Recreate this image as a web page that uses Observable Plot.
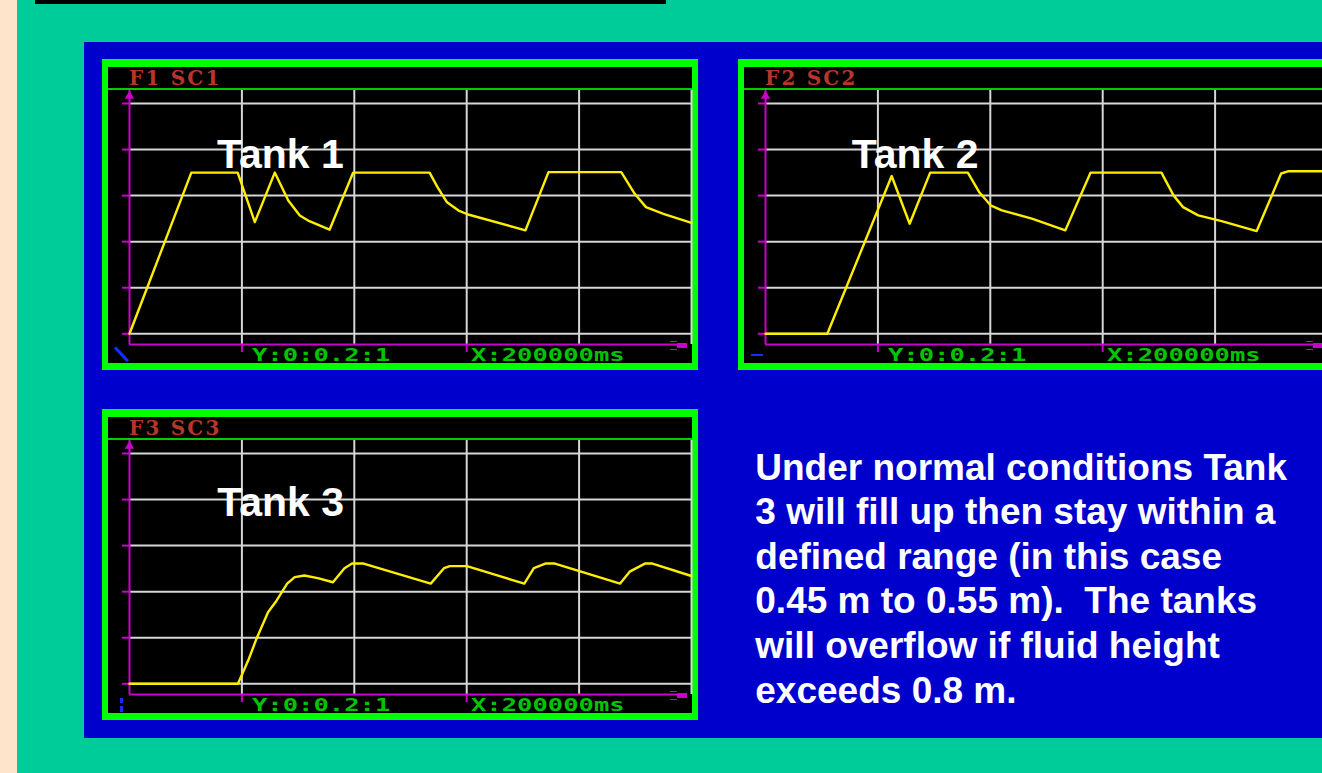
<!DOCTYPE html>
<html>
<head>
<meta charset="utf-8">
<script src="https://cdn.jsdelivr.net/npm/d3@7"></script>
<script src="https://cdn.jsdelivr.net/npm/@observablehq/plot@0.6"></script>
<style>
  html, body { margin: 0; padding: 0; width: 1322px; height: 773px; overflow: hidden; background: #00cc99; }
  #page { position: relative; width: 1322px; height: 773px; overflow: hidden; font-family: "Liberation Sans", Arial, sans-serif; }
  .abs { position: absolute; }
  .panel { position: absolute; width: 596px; height: 311px; box-sizing: border-box; border-style: solid; border-color: #00ff00; border-width: 8px 6px 7px 6px; background: #000; }
  .titlebar { position: absolute; left: 0; top: 0; width: 584px; height: 21px; background: #000; border-bottom: 2px solid #00cc00; }
  .ttl { position: absolute; left: 21px; top: 1px; font-family: "DejaVu Serif", serif; font-weight: bold; font-size: 20px; line-height: 20px; color: #b8352c; letter-spacing: 2.2px; white-space: pre; }
  .scopelabel { position: absolute; font-family: "DejaVu Sans Mono", monospace; font-weight: bold; font-size: 18.5px; line-height: 18px; color: #00c400; white-space: pre; transform: scaleX(1.38); transform-origin: 0 0; }
  .tank { position: absolute; font-weight: bold; font-size: 41px; line-height: 41px; color: #fff; white-space: pre; }
  .para { position: absolute; font-weight: bold; font-size: 37px; line-height: 44.6px; color: #fff; white-space: pre; }
</style>
</head>
<body>
<div id="page"></div>
<script>
// ---------- data read from the three oscilloscope screens ----------
const timeTicks = [0, 40, 80, 120, 160, 200];          // seconds (X:200000ms over 5 divisions)
const levelTicks = [0, 0.2, 0.4, 0.6, 0.8, 1];          // metres (Y:0:0.2:1)
const markedTimeTicks = [40, 120];                       // small magenta ticks under the x axis

const tank1Time  = [0, 22.0, 38.5, 44.6, 51.7, 56.5, 60.6, 64.0, 71.2, 79.6, 106.8, 109.6, 113.0, 117.1, 120.5, 140.9, 149.1, 175.0, 179.8, 183.8, 190.0, 200];
const tank1Level = [0, 0.70, 0.70, 0.485, 0.70, 0.579, 0.514, 0.489, 0.452, 0.70, 0.70, 0.637, 0.571, 0.535, 0.518, 0.449, 0.702, 0.702, 0.608, 0.55, 0.521, 0.482];

const tank2Time  = [0, 22.0, 44.9, 51.3, 58.6, 72.0, 76.0, 80.1, 84.1, 94.8, 106.7, 115.7, 140.9, 145.2, 148.6, 154.0, 162.0, 174.8, 183.5, 186.2, 200];
const tank2Level = [0, 0, 0.685, 0.478, 0.70, 0.70, 0.616, 0.558, 0.536, 0.50, 0.449, 0.70, 0.70, 0.601, 0.55, 0.514, 0.49, 0.446, 0.696, 0.706, 0.706];

const tank3Time  = [0, 38.6, 42.5, 45.2, 49.3, 52.0, 56.1, 58.8, 62.2, 67.0, 72.4, 76.5, 79.2, 83.3, 107.2, 111.9, 114.0, 120.1, 140.5, 143.9, 148.0, 151.4, 174.6, 178.0, 183.4, 186.1, 200];
const tank3Level = [0, 0, 0.109, 0.196, 0.311, 0.355, 0.435, 0.463, 0.47, 0.459, 0.441, 0.502, 0.522, 0.522, 0.435, 0.502, 0.511, 0.511, 0.435, 0.502, 0.522, 0.522, 0.435, 0.487, 0.522, 0.522, 0.468];

const screenTitles = ["F1 SC1", "F2 SC2", "F3 SC3"];
const tankNames = ["Tank 1", "Tank 2", "Tank 3"];
const yScaleLabel = "Y:0:0.2:1";
const xScaleLabel = "X:200000ms";
const noteLines = [
  "Under normal conditions Tank",
  "3 will fill up then stay within a",
  "defined range (in this case",
  "0.45 m to 0.55 m).  The tanks",
  "will overflow if fluid height",
  "exceeds 0.8 m."
];

// ---------- styling / layout ----------
const GRID = "#d6d6d6", MAGENTA = "#cc00cc", YELLOW = "#ffee00", BLUE = "#1030ff";
const Y_FLOOR = -0.0465, Y_CEIL = 1.0564, ARROW_Y = 1.032, AXIS_END = 198.3;

const page = document.getElementById("page");
function box(style, cls, text) {
  const d = document.createElement("div");
  d.className = "abs" + (cls ? " " + cls : "");
  Object.assign(d.style, style);
  if (text != null) d.textContent = text;
  page.appendChild(d);
  return d;
}

// slide background pieces
box({left: "0px", top: "0px", width: "17px", height: "773px", background: "#ffe4cc"});
box({left: "35px", top: "0px", width: "631px", height: "4px", background: "#000"});
box({left: "84px", top: "42px", width: "1238px", height: "696px", background: "#0000cc"});

function scope(data) {
  return Plot.plot({
    width: 584, height: 273,
    marginLeft: 21, marginRight: 1, marginTop: 0, marginBottom: 19,
    x: {domain: [0, 200], axis: null},
    y: {domain: [Y_FLOOR, Y_CEIL], axis: null},
    style: {background: "transparent", overflow: "visible"},
    marks: [
      Plot.ruleY(levelTicks, {x1: 0, x2: 200, stroke: GRID, strokeWidth: 2}),
      Plot.ruleX(timeTicks.slice(1), {stroke: GRID, strokeWidth: 2}),
      Plot.axisY(levelTicks, {anchor: "left", tickSize: 7, stroke: MAGENTA, strokeWidth: 2, tickFormat: () => "", label: null}),
      Plot.axisX(markedTimeTicks, {anchor: "bottom", tickSize: 8, stroke: MAGENTA, strokeWidth: 2, tickFormat: () => "", label: null}),
      Plot.ruleX([0], {stroke: MAGENTA, strokeWidth: 2}),
      Plot.ruleY([Y_FLOOR], {x1: 0, x2: AXIS_END, stroke: MAGENTA, strokeWidth: 2}),
      Plot.dot([0], {x: d => d, y: ARROW_Y, symbol: "triangle", fill: MAGENTA, r: 3.5}),
      Plot.line(data, {x: "t", y: "h", stroke: YELLOW, strokeWidth: 2.4})
    ]
  });
}

const series = [
  [tank1Time, tank1Level],
  [tank2Time, tank2Level],
  [tank3Time, tank3Level]
];
const panelPos = [[102, 59], [738, 59], [102, 409]];
const tankPos = [[217, 133.5], [851.7, 133.5], [217.2, 481.9]];

series.forEach(([ts, hs], i) => {
  const [L, T] = panelPos[i];
  const dx = L - 102, dy = T - 59;
  const panel = box({left: L + "px", top: T + "px"}, "panel");
  panel.classList.remove("abs");
  const tb = document.createElement("div");
  tb.className = "titlebar";
  const tt = document.createElement("div");
  tt.className = "ttl";
  tt.textContent = screenTitles[i];
  tb.appendChild(tt);
  panel.appendChild(tb);

  const holder = document.createElement("div");
  holder.style.position = "absolute";
  holder.style.left = "0px";
  holder.style.top = "23px";
  const data = ts.map((t, k) => ({t, h: hs[k]}));
  holder.appendChild(scope(data));
  panel.appendChild(holder);

  // scale readouts
  box({left: (252 + dx) + "px", top: (346 + dy) + "px"}, "scopelabel", yScaleLabel);
  box({left: (471 + dx) + "px", top: (346 + dy) + "px"}, "scopelabel", xScaleLabel);

  // probe connector at the end of the x axis
  box({left: (677 + dx) + "px", top: (343 + dy) + "px", width: "10px", height: "5px", background: MAGENTA});
  box({left: (670 + dx) + "px", top: (340.5 + dy) + "px", width: "7px", height: "1.5px", background: MAGENTA});
  box({left: (670 + dx) + "px", top: (348.5 + dy) + "px", width: "7px", height: "1.5px", background: MAGENTA});

  // tank label
  box({left: tankPos[i][0] + "px", top: tankPos[i][1] + "px"}, "tank", tankNames[i]);
});

// activity spinners (blue)
box({left: "119.5px", top: "345px", width: "2.5px", height: "19px", background: BLUE, transform: "rotate(-43deg)"});
box({left: "751px", top: "354px", width: "12px", height: "2px", background: BLUE});
box({left: "120px", top: "698px", width: "2.5px", height: "5px", background: BLUE});
box({left: "120px", top: "706px", width: "2.5px", height: "6px", background: BLUE});

// note text
box({left: "755.3px", top: "445.6px"}, "para", noteLines.join("\n"));
</script>
</body>
</html>
